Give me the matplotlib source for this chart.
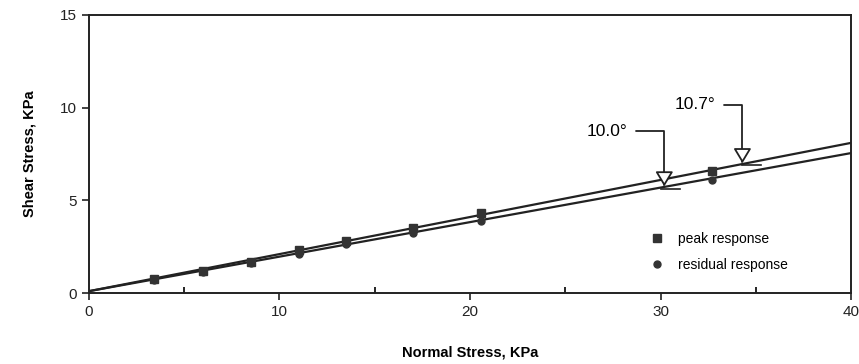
import matplotlib.pyplot as plt
from matplotlib.ticker import MultipleLocator

plt.rcParams['font.family'] = ['Liberation Sans', 'DejaVu Sans']

# normal stress of the tests (kPa)
normal_stress = [3.4, 6.0, 8.5, 11.0, 13.5, 17.0, 20.6, 32.7]
peak_shear = [0.75, 1.2, 1.7, 2.3, 2.8, 3.5, 4.3, 6.6]
residual_shear = [0.7, 1.15, 1.6, 2.1, 2.65, 3.25, 3.9, 6.1]

# fitted envelopes at x = 0 and x = 40
fit_x = [0, 40]
peak_fit = [0.1, 8.1]
residual_fit = [0.1, 7.55]

fig = plt.figure(figsize=(8.59, 3.64), dpi=100)
ax = fig.add_axes([0.1036, 0.195, 0.8871, 0.7638])

ax.plot(fit_x, peak_fit, color='#222222', lw=1.6)
ax.plot(fit_x, residual_fit, color='#222222', lw=1.6)
ax.plot(normal_stress, peak_shear, 's', color='#333333', ms=5.5, label='peak response')
ax.plot(normal_stress, residual_shear, 'o', color='#333333', ms=5, label='residual response')

# angle annotations
arrow = dict(arrowstyle='-|>,head_length=0.5,head_width=0.3', color='#222222', lw=1.3,
             fc='white', mutation_scale=18,
             connectionstyle='angle,angleA=0,angleB=90,rad=0', shrinkA=4, shrinkB=0)
ax.annotate('10.0°', xy=(30.2, 5.75), xytext=(27.2, 8.74), fontsize=12.5,
            ha='center', va='center', arrowprops=arrow)
ax.annotate('10.7°', xy=(34.3, 7.0), xytext=(31.8, 10.15), fontsize=12.5,
            ha='center', va='center', arrowprops=arrow)
ax.plot([30.0, 31.0], [5.62, 5.62], color='#222222', lw=1.2)
ax.plot([34.3, 35.3], [6.9, 6.9], color='#222222', lw=1.2)

ax.set_xlim(0, 40)
ax.set_ylim(0, 15)
ax.xaxis.set_major_locator(MultipleLocator(10))
ax.xaxis.set_minor_locator(MultipleLocator(5))
ax.yaxis.set_major_locator(MultipleLocator(5))
ax.tick_params(which='major', direction='out', length=5, width=1.2, labelsize=11, colors='#222222')
ax.tick_params(axis='x', which='minor', direction='in', length=4, width=1.2)
for s in ax.spines.values():
    s.set_linewidth(1.4)
    s.set_color('#222222')

ax.set_xlabel('Normal Stress, KPa', fontsize=10.5, fontweight='bold', labelpad=19)
ax.set_ylabel('Shear Stress, KPa', fontsize=10.5, fontweight='bold', labelpad=17)

ax.legend(loc='upper left', bbox_to_anchor=(0.729, 0.24), frameon=False, fontsize=10,
          handletextpad=1.0, labelspacing=0.85, handlelength=1, borderaxespad=0)

fig.savefig('out.png', dpi=100)
